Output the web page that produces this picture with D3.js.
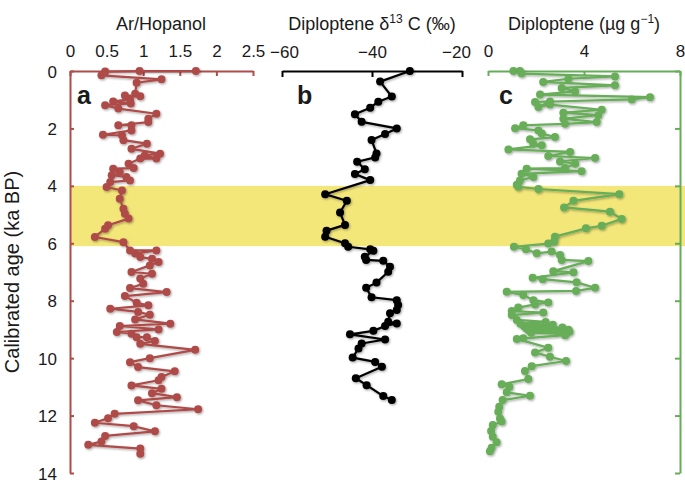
<!DOCTYPE html>
<html>
<head>
<meta charset="utf-8">
<script src="https://cdn.jsdelivr.net/npm/d3@7"></script>
<style>
  body { margin: 0; background: #fff; }
  text { font-family: "Liberation Sans", Arial, sans-serif; fill: #1a1a1a; }
</style>
</head>
<body>
<div id="chart"></div>
<script>
// panel a: Ar/Hopanol vs age (ka BP)
var ageA = [0, 0, 0.02, 0.15, 0.29, 0.41, 0.79, 0.88, 0.85, 0.99, 1.06, 1.13, 1.19, 1.31, 1.49, 1.66, 1.78, 1.89, 1.89, 2.07, 2.22, 2.24, 2.41, 2.53, 2.71, 2.88, 2.94, 3.05, 3.05, 3.23, 3.38, 3.40, 3.52, 3.63, 3.69, 3.81, 3.87, 4.04, 4.16, 4.45, 4.80, 4.97, 5.14, 5.37, 5.49, 5.78, 5.96, 6.25, 6.25, 6.36, 6.48, 6.54, 6.65,
  6.77, 7.00, 7.06, 7.23, 7.41, 7.56, 7.70, 7.84, 8.07, 8.16, 8.28, 8.39, 8.49, 8.65, 8.80, 8.88, 9.00, 9.09, 9.15, 9.27, 9.27, 9.40, 9.50, 9.71, 10.0, 10.14, 10.31, 10.46, 10.66, 10.77, 10.95, 11.07, 11.22, 11.36, 11.47, 11.64, 11.78, 11.94, 12.09, 12.25, 12.37, 12.55, 12.71, 12.90, 13.02, 13.15, 13.33];
var arHop = [1.72, 0.95, 0.48, 0.43, 1.25, 0.91, 0.89, 0.96, 0.75, 0.82, 0.59, 0.83, 0.48, 0.66, 1.18, 1.07, 1.07, 0.66, 0.84, 0.84, 0.45, 0.71, 0.73, 1.05, 0.84, 1.23, 1.02, 1.18, 0.96, 0.80, 0.87, 0.59, 0.68, 0.57, 0.77, 0.82, 0.55, 0.50, 0.71, 0.68, 0.73, 0.75, 0.80, 0.52, 0.48, 0.34, 0.73, 0.82, 1.18, 0.89, 0.96, 1.12, 1.21,
  1.09, 0.84, 1.12, 0.96, 1.00, 0.82, 1.32, 0.75, 0.91, 1.07, 0.55, 0.93, 1.09, 0.89, 1.37, 0.68, 1.21, 0.64, 0.84, 0.91, 1.05, 1.16, 0.96, 1.71, 1.09, 0.82, 0.93, 1.43, 1.25, 1.21, 0.84, 1.25, 1.12, 1.46, 0.93, 1.18, 1.75, 0.61, 0.52, 0.34, 0.87, 1.16, 0.48, 0.43, 0.25, 0.96, 0.96];

// panel b: diploptene d13C (permil)
var ageB = [0, 0.37, 0.89, 1.07, 1.28, 1.51, 1.77, 2.00, 2.19, 2.40, 2.87, 3.01, 3.16, 3.42, 3.59, 3.80, 4.29, 4.52, 4.93, 5.36, 5.56, 5.77, 6.00, 6.12, 6.21, 6.26, 6.47, 6.58, 6.61, 6.82, 6.99, 7.37, 7.55, 7.88, 7.98, 8.15, 8.32, 8.44, 8.73, 8.79, 8.88, 9.05, 9.17, 9.35, 9.49, 9.66, 9.98, 10.13, 10.30, 10.70, 10.94, 11.32, 11.46];
var d13c = [-31.6, -38.2, -35.6, -38.6, -40.4, -43.8, -42.3, -34.5, -37.1, -40.1, -39.0, -39.3, -43.3, -41.6, -43.8, -40.4, -50.4, -45.6, -47.1, -46.0, -50.1, -50.4, -46.0, -45.3, -40.4, -39.7, -41.6, -41.3, -37.5, -36.0, -36.4, -39.0, -41.3, -40.1, -34.5, -34.2, -34.5, -36.0, -36.4, -34.5, -37.1, -39.7, -44.9, -37.1, -42.3, -43.0, -44.3, -39.3, -37.8, -43.6, -41.2, -37.5, -35.6];

// panel c: diploptene concentration (ug/g)
var ageC = [0, 0, 0.09, 0.19, 0.27, 0.38, 0.50, 0.59, 0.71, 0.82, 0.91, 0.99, 1.08, 1.06, 1.25, 1.17, 1.35, 1.45, 1.54, 1.66, 1.78, 1.84, 1.89, 1.99, 2.07, 2.18, 2.30, 2.38, 2.53, 2.59, 2.73, 2.82, 2.96, 3.03, 3.15, 3.23, 3.38, 3.40, 3.49, 3.58, 3.69, 3.81, 3.96, 4.03, 4.11,
  4.29, 4.52, 4.75, 4.90, 5.15, 5.39, 5.48, 5.77, 5.95, 6.01, 6.12, 6.21, 6.35, 6.29, 6.41, 6.58, 6.62, 6.97, 7.01, 7.20, 7.25, 7.36, 7.55, 7.66, 7.69, 7.80, 7.98, 8.06, 8.13, 8.24, 8.36, 8.41, 8.50, 8.67, 8.74, 8.80, 8.84, 8.89, 8.93, 8.97, 9.01, 9.04, 9.08, 9.12, 9.16, 9.20, 9.31, 9.33,
  9.64, 9.80, 9.95, 10.10, 10.28, 10.45, 10.73, 10.91, 11.00, 11.19, 11.31, 11.46, 11.69, 11.87, 12.10, 12.21, 12.33, 12.54, 12.74, 12.93, 13.12, 13.24];
var dipConc = [1.06, 1.33, 1.40, 5.29, 3.35, 2.30, 5.29, 3.07, 3.63, 2.17, 6.75, 5.99, 1.96, 2.58, 2.10, 2.58, 4.74, 3.14, 4.60, 3.14, 4.53, 3.21, 1.47, 1.13, 2.10, 2.24, 2.79, 1.75, 1.89, 2.24, 0.85, 3.42, 2.51, 4.46, 3.00, 3.63, 3.21, 1.61, 3.90, 1.40, 1.89, 1.33, 1.20, 1.26, 2.10,
  5.47, 3.56, 3.17, 5.08, 5.57, 4.74, 4.08, 2.79, 2.75, 2.51, 1.08, 1.58, 2.03, 2.65, 3.00, 3.07, 4.18, 2.72, 3.56, 1.86, 2.28, 3.69, 4.46, 3.67, 0.78, 1.47, 1.89, 2.51, 1.96, 1.26, 0.99, 2.30, 0.99, 1.20, 2.40, 1.35, 2.70, 1.50, 3.10, 1.60, 3.35, 1.70, 3.40, 1.80, 3.25, 3.21, 1.47, 1.20,
  2.51, 1.96, 2.58, 3.25, 1.82, 1.54, 1.68, 0.57, 0.89, 0.78, 1.75, 0.61, 0.47, 0.43, 0.50, 0.57, 0.20, 0.13, 0.20, 0.36, 0.15, 0.08];

var bandStart = 4, bandEnd = 6.1;
var yTicks = [0, 2, 4, 6, 8, 10, 12, 14];

var W = 685, H = 485;
var svg = d3.select("#chart").append("svg").attr("width", W).attr("height", H);

var defs = svg.append("defs");
var f = defs.append("filter").attr("id", "shadow").attr("x", "-50%").attr("y", "-50%").attr("width", "200%").attr("height", "200%");
f.append("feDropShadow").attr("dx", 1).attr("dy", 1.2).attr("stdDeviation", 1.2).attr("flood-opacity", 0.35);

var y = d3.scaleLinear().domain([0, 14]).range([71, 473]);
var xa = d3.scaleLinear().domain([0, 2.5]).range([70, 253]);
var xb = d3.scaleLinear().domain([-60, -20]).range([282, 462]);
var xc = d3.scaleLinear().domain([0, 8]).range([488, 680]);

// highlighted interval
svg.append("rect")
  .attr("x", xa(0)).attr("width", W - xa(0))
  .attr("y", y(bandStart)).attr("height", y(bandEnd) - y(bandStart))
  .attr("fill", "#f3e77a");

function styleAxis(g, color) {
  g.selectAll("path, line").attr("stroke", color).attr("stroke-width", 2);
  g.selectAll("text").attr("font-size", 17).attr("fill", "#1a1a1a")
    .attr("font-family", '"Liberation Sans", Arial, sans-serif');
}

var red = "#ae4c49", green = "#67ad59", black = "#000";

// top axes
var ga = svg.append("g").attr("transform", "translate(0,71)")
  .call(d3.axisTop(xa).tickValues([0, 0.5, 1, 1.5, 2, 2.5]).tickSizeInner(-5).tickSizeOuter(0).tickPadding(14).tickFormat(d3.format("")));
styleAxis(ga, red);
var gb = svg.append("g").attr("transform", "translate(0,71)")
  .call(d3.axisTop(xb).tickValues([-60, -40, -20]).tickSizeInner(-6).tickSizeOuter(0).tickPadding(13));
styleAxis(gb, black);
gb.selectAll(".tick text").filter(function (d) { return d === -20; }).attr("dx", -6);
gb.selectAll(".tick text").filter(function (d) { return d === -60; }).attr("dx", 2);
var gc = svg.append("g").attr("transform", "translate(0,71)")
  .call(d3.axisTop(xc).tickValues([0, 4, 8]).tickSizeInner(-5).tickSizeOuter(0).tickPadding(14));
styleAxis(gc, green);

// left age axis (panel a) and right axis (panel c)
var gl = svg.append("g").attr("transform", "translate(70,0)")
  .call(d3.axisLeft(y).tickValues(yTicks).tickSizeInner(-4).tickSizeOuter(0).tickPadding(13));
styleAxis(gl, red);
gl.selectAll(".tick text").attr("dy", "0.36em");
var gr = svg.append("g").attr("transform", "translate(680,0)")
  .call(d3.axisRight(y).tickValues(yTicks).tickSizeInner(-5).tickSizeOuter(0).tickFormat(""));
styleAxis(gr, green);

// series
function drawSeries(ages, vals, x, color) {
  var pts = ages.map(function (a, i) { return [x(vals[i]), y(a)]; });
  var g = svg.append("g").attr("filter", "url(#shadow)");
  g.append("path")
    .attr("d", d3.line()(pts))
    .attr("fill", "none").attr("stroke", color).attr("stroke-width", 2.2)
    .attr("stroke-linejoin", "round");
  g.selectAll("circle").data(pts).enter().append("circle")
    .attr("cx", function (d) { return d[0]; })
    .attr("cy", function (d) { return d[1]; })
    .attr("r", 4).attr("fill", color);
}
drawSeries(ageA, arHop, xa, red);
drawSeries(ageB, d13c, xb, black);
drawSeries(ageC, dipConc, xc, green);

// panel letters
[["a", 77], ["b", 297], ["c", 499]].forEach(function (p) {
  svg.append("text").attr("x", p[1]).attr("y", 104)
    .attr("font-size", 25).attr("font-weight", "bold").attr("fill", "#000").text(p[0]);
});

// titles
svg.append("text").attr("x", 161).attr("y", 30).attr("text-anchor", "middle")
  .attr("font-size", 18).text("Ar/Hopanol");
var tb = svg.append("text").attr("x", 372).attr("y", 30).attr("text-anchor", "middle").attr("font-size", 18);
tb.append("tspan").text("Diploptene δ");
tb.append("tspan").attr("font-size", 12).attr("dy", -7).text("13");
tb.append("tspan").attr("dy", 7).text(" C (‰)");
var tc = svg.append("text").attr("x", 584).attr("y", 30).attr("text-anchor", "middle").attr("font-size", 18);
tc.append("tspan").text("Diploptene (µg g");
tc.append("tspan").attr("font-size", 12).attr("dy", -7).text("−1");
tc.append("tspan").attr("dy", 7).text(")");

// y title
svg.append("text")
  .attr("transform", "translate(19," + y(7) + ") rotate(-90)")
  .attr("text-anchor", "middle").attr("font-size", 20)
  .text("Calibrated age (ka BP)");
</script>
</body>
</html>
